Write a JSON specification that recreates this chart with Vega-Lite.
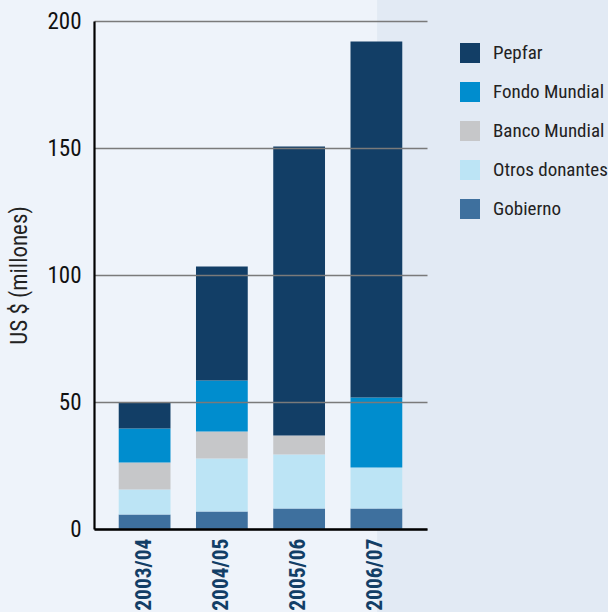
{
  "$schema": "https://vega.github.io/schema/vega-lite/v6.json",
  "width": 333,
  "height": 508,
  "autosize": {"type": "none"},
  "padding": {"left": 94, "top": 21, "right": 181, "bottom": 83},
  "background": "#eef3fa",
  "config": {"view": {"stroke": null}},
  "layer": [
    {
      "description": "Shaded side panel behind the last bar and the legend",
      "data": {"values": [{"panel": "side"}]},
      "mark": {"type": "rect", "color": "#e2eaf4", "clip": false},
      "encoding": {
        "x": {"datum": 0.85, "type": "quantitative", "scale": {"domain": [0, 1], "nice": false, "zero": false}, "axis": null},
        "x2": {"datum": 2},
        "y": {"datum": -0.2, "type": "quantitative", "scale": {"domain": [0, 1], "nice": false, "zero": false}, "axis": null},
        "y2": {"datum": 1.2}
      }
    },
    {
      "data": {
        "values": [
          {"year": "2003/04", "source": "Gobierno", "value": 5.7},
          {"year": "2003/04", "source": "Otros donantes", "value": 9.9},
          {"year": "2003/04", "source": "Banco Mundial", "value": 10.6},
          {"year": "2003/04", "source": "Fondo Mundial", "value": 13.4},
          {"year": "2003/04", "source": "Pepfar", "value": 10.3},
          {"year": "2004/05", "source": "Gobierno", "value": 6.9},
          {"year": "2004/05", "source": "Otros donantes", "value": 20.9},
          {"year": "2004/05", "source": "Banco Mundial", "value": 10.6},
          {"year": "2004/05", "source": "Fondo Mundial", "value": 20.1},
          {"year": "2004/05", "source": "Pepfar", "value": 44.8},
          {"year": "2005/06", "source": "Gobierno", "value": 8.1},
          {"year": "2005/06", "source": "Otros donantes", "value": 21.2},
          {"year": "2005/06", "source": "Banco Mundial", "value": 7.5},
          {"year": "2005/06", "source": "Fondo Mundial", "value": 0},
          {"year": "2005/06", "source": "Pepfar", "value": 113.8},
          {"year": "2006/07", "source": "Gobierno", "value": 8.1},
          {"year": "2006/07", "source": "Otros donantes", "value": 16.1},
          {"year": "2006/07", "source": "Banco Mundial", "value": 0},
          {"year": "2006/07", "source": "Fondo Mundial", "value": 27.6},
          {"year": "2006/07", "source": "Pepfar", "value": 140.1}
        ]
      },
      "transform": [
        {"calculate": "indexof(['Gobierno', 'Otros donantes', 'Banco Mundial', 'Fondo Mundial', 'Pepfar'], datum.source)", "as": "stackIndex"}
      ],
      "mark": {"type": "bar"},
      "encoding": {
        "x": {
          "field": "year",
          "type": "nominal",
          "scale": {"paddingInner": 0.33, "paddingOuter": 0.32},
          "axis": {
            "title": null,
            "labelAngle": -90,
            "labelFont": "Liberation Sans Narrow, Arial Narrow, Roboto Condensed, DejaVu Sans Condensed, Roboto, sans-serif",
            "labelFontWeight": "bold",
            "labelFontSize": 21.5,
            "labelColor": "#123e66",
            "labelPadding": 9,
            "ticks": false,
            "domainColor": "#000000",
            "domainWidth": 2.4,
            "grid": false,
            "zindex": 1
          }
        },
        "y": {
          "field": "value",
          "type": "quantitative",
          "aggregate": "sum",
          "stack": "zero",
          "scale": {"domain": [0, 200], "nice": false},
          "axis": {
            "title": "US $ (millones)",
            "titleFont": "Liberation Sans Narrow, Arial Narrow, Roboto Condensed, DejaVu Sans Condensed, Roboto, sans-serif",
            "titleFontWeight": "normal",
            "titleFontSize": 23,
            "titleColor": "#222222",
            "titlePadding": 15,
            "values": [0, 50, 100, 150, 200],
            "labelFont": "Liberation Sans Narrow, Arial Narrow, Roboto Condensed, DejaVu Sans Condensed, Roboto, sans-serif",
            "labelFontSize": 23,
            "labelColor": "#111111",
            "labelPadding": 13,
            "ticks": false,
            "domainColor": "#000000",
            "domainWidth": 2.2,
            "grid": true,
            "gridColor": "#7a7a7a",
            "gridWidth": 1.3,
            "zindex": 1
          }
        },
        "order": {"field": "stackIndex", "type": "quantitative", "sort": "ascending"},
        "color": {
          "field": "source",
          "type": "nominal",
          "sort": ["Pepfar", "Fondo Mundial", "Banco Mundial", "Otros donantes", "Gobierno"],
          "scale": {
            "domain": ["Pepfar", "Fondo Mundial", "Banco Mundial", "Otros donantes", "Gobierno"],
            "range": ["#123e66", "#008dce", "#c6c7c9", "#bce4f5", "#3e709e"]
          },
          "legend": {
            "title": null,
            "orient": "none",
            "legendX": 366,
            "legendY": 22,
            "padding": 0,
            "symbolType": "square",
            "symbolSize": 400,
            "symbolStrokeWidth": 0,
            "labelFont": "Liberation Sans Narrow, Arial Narrow, Roboto Condensed, DejaVu Sans Condensed, Roboto, sans-serif",
            "labelFontSize": 19,
            "labelColor": "#222222",
            "labelOffset": 13,
            "labelLimit": 200,
            "rowPadding": 19
          }
        }
      }
    }
  ],
  "resolve": {"scale": {"x": "independent", "y": "independent"}}
}
